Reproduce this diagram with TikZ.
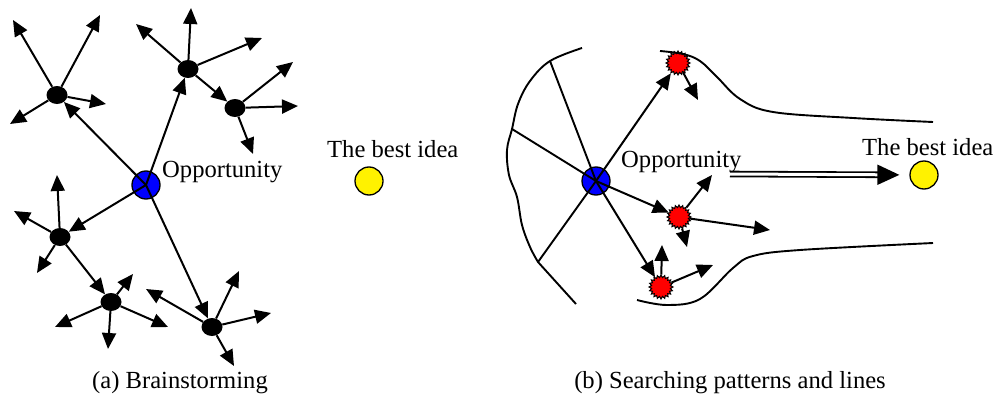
\documentclass[tikz,border=0pt]{standalone}
\usepackage{fontspec}
\setmainfont{Liberation Serif}
\usetikzlibrary{arrows.meta,shapes.symbols,shapes.geometric,positioning}

\begin{document}
\begin{tikzpicture}[x=1pt, y=-1pt,
  every node/.style={font=\fontsize{24.6}{28}\selectfont},
  idea/.style={circle, draw, line width=1.3pt, minimum size=28pt, inner sep=0pt},
  dot/.style={ellipse, fill=black, minimum width=21pt, minimum height=18pt, inner sep=0pt},
  spark/.style={starburst, starburst points=20, starburst point height=2.5pt, random starburst=0,
    fill=red, draw=black, line width=1pt, minimum size=24pt, inner sep=0pt},
  arr/.style={line width=2pt, -{Triangle[length=16pt,width=14pt]}},
  edge/.style={line width=1.9pt},
  dbl/.style={double, double distance=3pt, line width=1.8pt, -{Triangle[length=22pt,width=20pt]}, shorten >=10pt},
  txt/.style={inner sep=0pt, anchor=base west}]
  \useasboundingbox (0,0) rectangle (998,396);

  % (a) brainstorming
  \node[idea, fill=blue] (opp1) at (146,185) {};
  \node[dot] (n1) at (57,95) {};
  \node[dot] (n2) at (188,69) {};
  \node[dot] (n3) at (235,108) {};
  \node[dot] (n4) at (60,237) {};
  \node[dot] (n5) at (111,302) {};
  \node[dot] (n6) at (212,327) {};
  \node[idea, fill=yellow] (best1) at (369,181) {};
  \node[txt] (opp1text) at (162,177) {Opportunity};
  \node[txt] (best1text) at (327,157) {The best idea};
  \node[anchor=base] (capa) at (180,388) {(a) Brainstorming};

  \foreach \a in {n1,n2,n4,n6} \draw[arr] (opp1.center) -- (\a);
  \draw[arr] (n2) -- (n3);
  \draw[arr] (n4) -- (n5);
  \foreach \n/\x/\y [count=\i] in {n1/13/20, n1/100/15, n1/106/104, n1/10/124,
      n2/191/8, n2/136/24, n2/262/38,
      n3/293/62, n3/298/106, n3/253/154,
      n4/57/175, n4/14/211, n4/37/273,
      n5/133/274, n5/55/327, n5/108/349, n5/168/327,
      n6/146/289, n6/239/271, n6/271/313, n6/234/366} {
    \coordinate (a\i) at (\x,\y);
    \draw[arr] (\n) -- (a\i);
  }

  % (b) searching patterns and lines
  \node[idea, fill=blue] (opp2) at (596,181) {};
  \node[spark] (s1) at (678,63) {};
  \node[spark] (s2) at (679,217) {};
  \node[spark] (s3) at (661,287) {};
  \node[idea, fill=yellow] (best2) at (924,175) {};
  \node[txt] (opp2text) at (621,167) {Opportunity};
  \node[txt] (best2text) at (862,155) {The best idea};
  \node[anchor=base] (capb) at (730,388) {(b) Searching patterns and lines};

  \coordinate (w1) at (550,61);
  \coordinate (w2) at (512,129);
  \coordinate (w3) at (538,262);
  \draw[edge] plot[smooth, tension=0.6] coordinates {(582,48) (w1) (530,81) (518,104) (w2)
    (507,150) (509,175) (517,197) (522,225) (530,247) (w3)} -- (576,304);
  \draw[edge] plot[smooth, tension=0.6] coordinates {(660,51) (683,54) (700,61) (717,77)
    (740,99) (773,112) (853,118) (933,122)};
  \draw[edge] plot[smooth, tension=0.6] coordinates {(637,300) (667,305) (700,299) (733,268)
    (753,256) (800,250) (933,243)};
  \foreach \w in {w1,w2,w3} \draw[edge] (opp2.center) -- (\w);

  \foreach \s in {s1,s2,s3} \draw[arr] (opp2.center) -- (\s);
  \foreach \n/\x/\y [count=\i] in {s1/698/100, s2/712/175, s2/770/230, s2/687/247,
      s3/662/245, s3/713/265} {
    \coordinate (b\i) at (\x,\y);
    \draw[arr] (\n) -- (b\i);
  }

  \coordinate (go) at (730,174);
  \draw[dbl] (go) -- (best2);
\end{tikzpicture}
\end{document}
